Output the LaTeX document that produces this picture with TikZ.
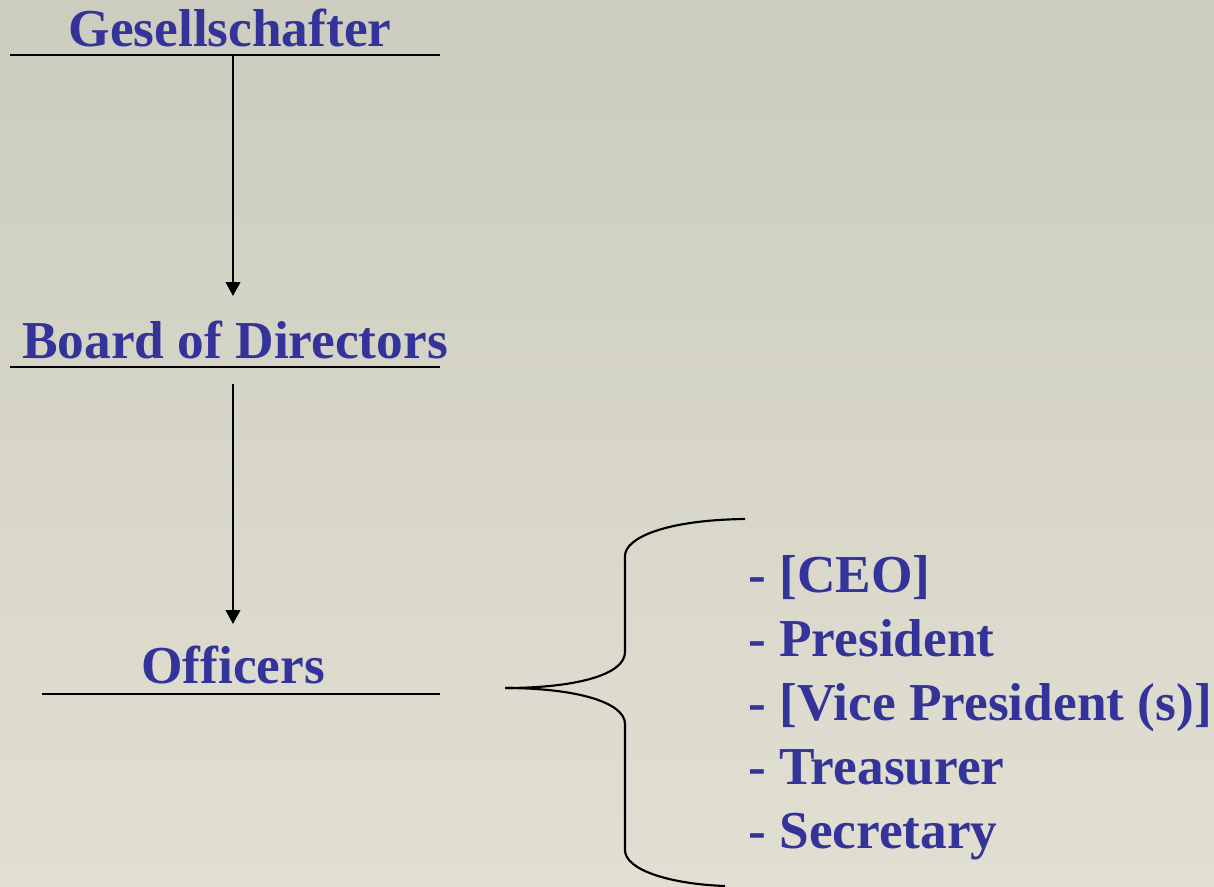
\documentclass[tikz,border=0pt]{standalone}
\usepackage{fontspec}
\setmainfont{Liberation Serif}
\usetikzlibrary{arrows.meta}
\definecolor{bgtop}{RGB}{204,205,191}
\definecolor{bgbot}{RGB}{225,223,209}
\definecolor{txtblue}{RGB}{51,51,153}
\tikzset{
  title/.style={anchor=base, inner sep=0pt, text=txtblue, font=\fontsize{40}{48}\selectfont\bfseries},
  item/.style={anchor=base west, inner sep=0pt, text=txtblue, font=\fontsize{40}{48}\selectfont\bfseries},
  rule/.style={line width=1.4pt, black},
  conn/.style={line width=1.4pt, black, -{Triangle[length=10.5pt,width=11pt]}},
  bracepath/.style={line width=1.6pt, black}
}
\begin{document}
\begin{tikzpicture}[x=0.75pt,y=-0.75pt]
\shade[top color=bgtop, bottom color=bgbot] (0,0) rectangle (1214,886);
\useasboundingbox (0,0) rectangle (1214,886);
% titles
\node[title] (ges) at (230,46) {Gesellschafter};
\node[title] (bod) at (235,358) {Board of Directors};
\node[title] (off) at (233,683) {Officers};
% rules under titles
\coordinate (gesL) at (10,55);  \coordinate (gesR) at (440,55);
\coordinate (bodL) at (10,367); \coordinate (bodR) at (440,367);
\coordinate (offL) at (42,694); \coordinate (offR) at (440,694);
\draw[rule] (gesL) -- (gesR);
\draw[rule] (bodL) -- (bodR);
\draw[rule] (offL) -- (offR);
% connectors
\coordinate (a1s) at (233,55);  \coordinate (a1e) at (233,296);
\coordinate (a2s) at (233,384); \coordinate (a2e) at (233,624);
\draw[conn] (a1s) -- (a1e);
\draw[conn] (a2s) -- (a2e);
% brace
\coordinate (btop) at (745,519);
\coordinate (btip) at (505,688);
\coordinate (bbot) at (725,886);
\draw[bracepath] (btop) .. controls (665,520) and (625,538) .. (625,556)
  -- (625,652) .. controls (625,675) and (575,688) .. (btip);
\draw[bracepath] (btip) .. controls (575,688) and (625,702) .. (625,724)
  -- (625,850) .. controls (625,870) and (670,884) .. (bbot);
% list
\node[item] (i1) at (748,592) {- [CEO]};
\node[item] (i2) at (748,656) {- President};
\node[item] (i3) at (748,720) {- [Vice President (s)]};
\node[item] (i4) at (748,784) {- Treasurer};
\node[item] (i5) at (748,848) {- Secretary};
\end{tikzpicture}
\end{document}
